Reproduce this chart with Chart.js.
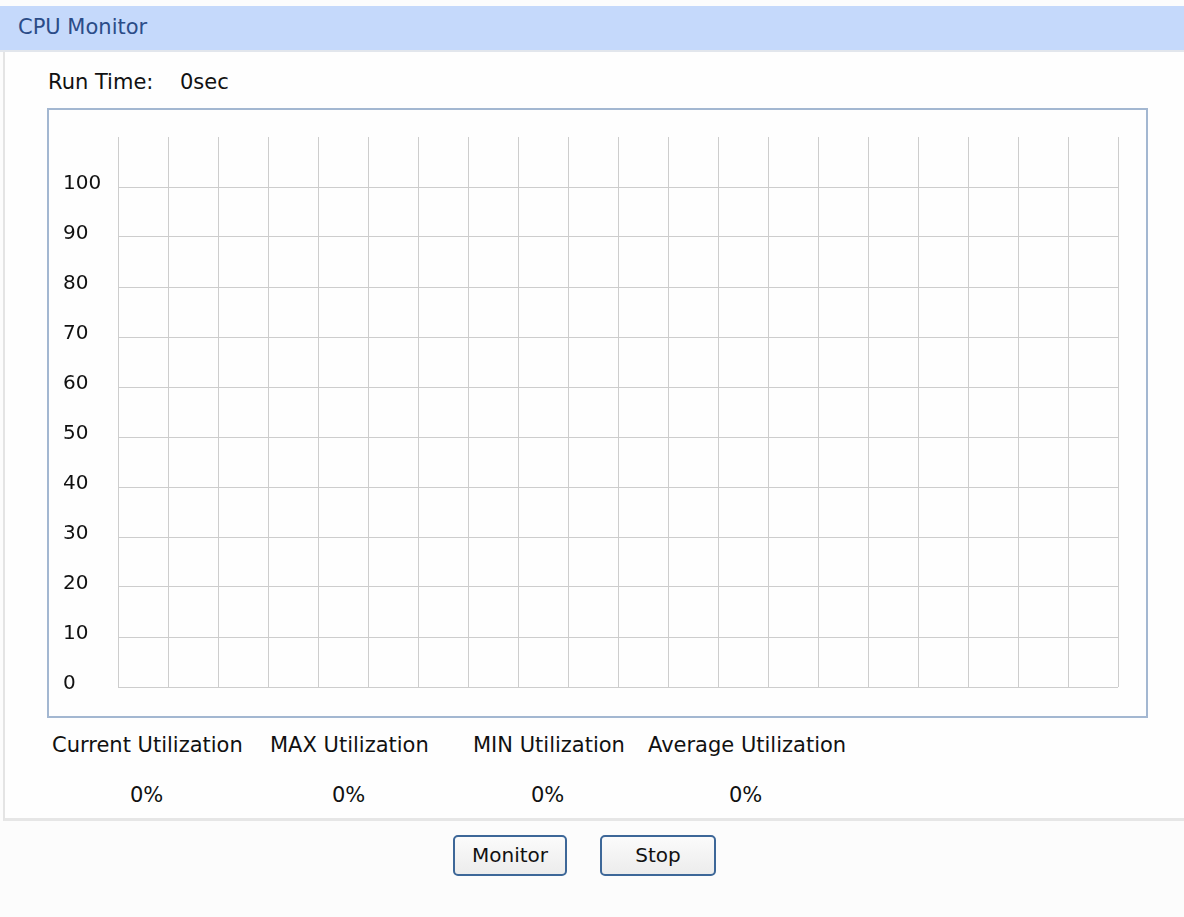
<!DOCTYPE html>
<html>
<head>
<meta charset="utf-8">
<title>CPU Monitor</title>
<script src="https://cdn.jsdelivr.net/npm/chart.js@4/dist/chart.umd.min.js"></script>
<style>
    body {
        margin: 0;
        width: 1184px;
        height: 917px;
        background: #fcfcfc;
        font-family: "DejaVu Sans", sans-serif;
        color: #111;
        position: relative;
        overflow: hidden;
    }
    .abs { position: absolute; white-space: nowrap; }
    #header {
        left: 0; top: 6px; width: 1184px; height: 44px;
        background: #c5d9fb;
        border-bottom: 2px solid #e2e6ec;
    }
    #header span {
        position: absolute; left: 18px; top: 9px;
        font-size: 21px; color: #2b4c88;
    }
    #panel {
        left: 3px; top: 52px; width: 1181px; height: 766px;
        background: #fefefe;
        border-left: 2px solid #e4e4e4;
        border-bottom: 3px solid #e6e6e6;
    }
    .txt { font-size: 21px; line-height: 24px; }
    #chartBox {
        left: 47px; top: 108px; width: 1097px; height: 606px;
        border: 2px solid #a3b7d1;
        background: #fefefe;
    }
    .btn {
        top: 835px; height: 37px;
        border: 2px solid #3d6798;
        border-radius: 5px;
        background: linear-gradient(#fbfbfb, #ececec);
        font-size: 20px; line-height: 37px; text-align: center;
        color: #111;
    }
</style>
</head>
<body>
<div id="header" class="abs"><span>CPU Monitor</span></div>
<div id="panel" class="abs"></div>

<div class="abs txt" style="left:48px; top:70px;">Run Time:</div>
<div class="abs txt" style="left:180px; top:70px;" id="runTime"></div>

<div id="chartBox" class="abs">
    <canvas id="cpuChart" width="1097" height="606"></canvas>
</div>

<div id="stats"></div>

<div class="abs btn" style="left:453px; width:110px;">Monitor</div>
<div class="abs btn" style="left:600px; width:112px;">Stop</div>

<script>
// CPU Monitor chart

var runTimeSec = 0;

// samples collected so far (none yet: run time is 0sec)
var sampleSlots = [];
var cpuSamples = [];

// axis
var xSlotCount = 20;
var yTicks = [0, 10, 20, 30, 40, 50, 60, 70, 80, 90, 100];
var yMax = 110;

// utilization summary
var statLabels = ['Current Utilization', 'MAX Utilization', 'MIN Utilization', 'Average Utilization'];
var statValues = [0, 0, 0, 0];
var statLabelX = [52, 270, 473, 648];
var statValueX = [130, 332, 531, 729];

function drawStats() {
    var html = '';
    for (var i = 0; i < statLabels.length; i++) {
        html += '<div class="abs txt" style="left:' + statLabelX[i] + 'px; top:733px;">' + statLabels[i] + '</div>';
        html += '<div class="abs txt" style="left:' + statValueX[i] + 'px; top:783px;">' + statValues[i] + '%</div>';
    }
    document.getElementById('stats').innerHTML = html;
    document.getElementById('runTime').textContent = runTimeSec + 'sec';
}

function initCpuChart() {
    var ctx = document.getElementById('cpuChart').getContext('2d');
    var points = sampleSlots.map(function (x, i) { return { x: x, y: cpuSamples[i] }; });

    return new Chart(ctx, {
        type: 'line',
        data: {
            datasets: [{
                label: 'CPU',
                data: points,
                borderColor: '#2e7d32',
                borderWidth: 2,
                pointRadius: 0,
                fill: false
            }]
        },
        options: {
            responsive: false,
            animation: false,
            events: [],
            layout: {
                padding: { left: 14, top: 27, right: 28, bottom: 29 }
            },
            plugins: {
                legend: { display: false },
                tooltip: { enabled: false }
            },
            scales: {
                x: {
                    type: 'linear',
                    min: 0,
                    max: xSlotCount,
                    border: { display: false },
                    grid: { color: '#cdcdcd', lineWidth: 1, drawTicks: false },
                    ticks: { display: false, stepSize: 1 },
                    afterFit: function (scale) { scale.height = 0; }
                },
                y: {
                    min: 0,
                    max: yMax,
                    border: { display: false },
                    grid: {
                        drawTicks: false,
                        lineWidth: 1,
                        color: function (c) {
                            return yTicks.indexOf(c.tick.value) >= 0 ? '#cdcdcd' : 'rgba(0,0,0,0)';
                        }
                    },
                    afterBuildTicks: function (scale) {
                        scale.ticks = yTicks.map(function (v) { return { value: v }; }).concat([{ value: yMax }]);
                    },
                    ticks: {
                        crossAlign: 'far',
                        padding: 0,
                        labelOffset: -3,
                        color: '#111',
                        font: { family: '"DejaVu Sans", sans-serif', size: 20 },
                        callback: function (value) {
                            return yTicks.indexOf(value) >= 0 ? String(value) : '';
                        }
                    },
                    afterFit: function (scale) { scale.width = 55; }
                }
            }
        }
    });
}

drawStats();
initCpuChart();
</script>
</body>
</html>
